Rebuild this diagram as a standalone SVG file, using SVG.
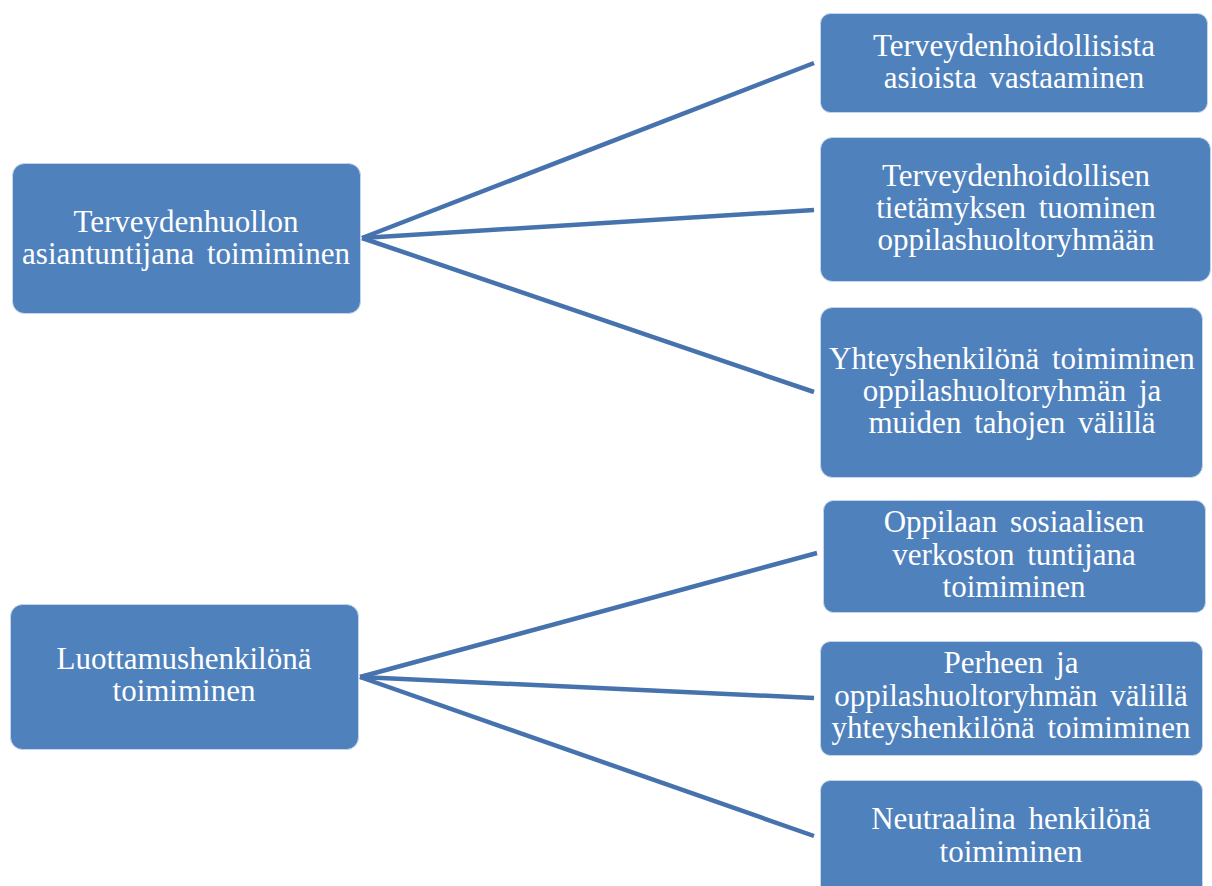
<svg xmlns="http://www.w3.org/2000/svg" width="1212" height="886" viewBox="0 0 1212 886">
<style>
.box{fill:#4f81bd;stroke:#c5d5ea;stroke-width:1}
.t{font-family:"Liberation Serif","Times New Roman",serif;font-size:31px;word-spacing:5px;fill:#ffffff;text-anchor:middle}
.c{stroke:#4672ad;stroke-width:4.5;fill:none;stroke-linecap:butt}
</style>
<rect width="1212" height="886" fill="#ffffff"/>
<g id="connectors">
<line class="c" x1="362" y1="238" x2="814" y2="63"/>
<line class="c" x1="362" y1="238" x2="814" y2="210"/>
<line class="c" x1="362" y1="238" x2="814" y2="392"/>
<line class="c" x1="360" y1="677" x2="817" y2="553"/>
<line class="c" x1="360" y1="677" x2="814" y2="698"/>
<line class="c" x1="360" y1="677" x2="814" y2="836"/>
</g>
<g id="n1">
<rect class="box" x="12.5" y="163.5" width="348" height="150" rx="12"/>
<text class="t" x="186" y="232">Terveydenhuollon</text>
<text class="t" x="186" y="264">asiantuntijana toimiminen</text>
</g>
<g id="n2">
<rect class="box" x="10.5" y="604.5" width="348" height="145" rx="12"/>
<text class="t" x="184" y="669">Luottamushenkilönä</text>
<text class="t" x="184" y="701">toimiminen</text>
</g>
<g id="r1">
<rect class="box" x="820.5" y="13.5" width="387" height="99" rx="10"/>
<text class="t" x="1014" y="56">Terveydenhoidollisista</text>
<text class="t" x="1014" y="88">asioista vastaaminen</text>
</g>
<g id="r2">
<rect class="box" x="820.5" y="137.5" width="390" height="144" rx="12"/>
<text class="t" x="1016" y="186">Terveydenhoidollisen</text>
<text class="t" x="1016" y="218">tietämyksen tuominen</text>
<text class="t" x="1016" y="250">oppilashuoltoryhmään</text>
</g>
<g id="r3">
<rect class="box" x="820.5" y="307.5" width="382" height="170" rx="12"/>
<text class="t" x="1012" y="369">Yhteyshenkilönä toimiminen</text>
<text class="t" x="1012" y="401">oppilashuoltoryhmän ja</text>
<text class="t" x="1012" y="433">muiden tahojen välillä</text>
</g>
<g id="r4">
<rect class="box" x="823.5" y="500.5" width="382" height="112" rx="10"/>
<text class="t" x="1014" y="532">Oppilaan sosiaalisen</text>
<text class="t" x="1014" y="565">verkoston tuntijana</text>
<text class="t" x="1014" y="597">toimiminen</text>
</g>
<g id="r5">
<rect class="box" x="820.5" y="641.5" width="382" height="114" rx="10"/>
<text class="t" x="1011" y="673">Perheen ja</text>
<text class="t" x="1011" y="706">oppilashuoltoryhmän välillä</text>
<text class="t" x="1011" y="738">yhteyshenkilönä toimiminen</text>
</g>
<g id="r6">
<rect class="box" x="820.5" y="780.5" width="382" height="130" rx="10"/>
<text class="t" x="1011" y="829">Neutraalina henkilönä</text>
<text class="t" x="1011" y="862">toimiminen</text>
</g>
</svg>
